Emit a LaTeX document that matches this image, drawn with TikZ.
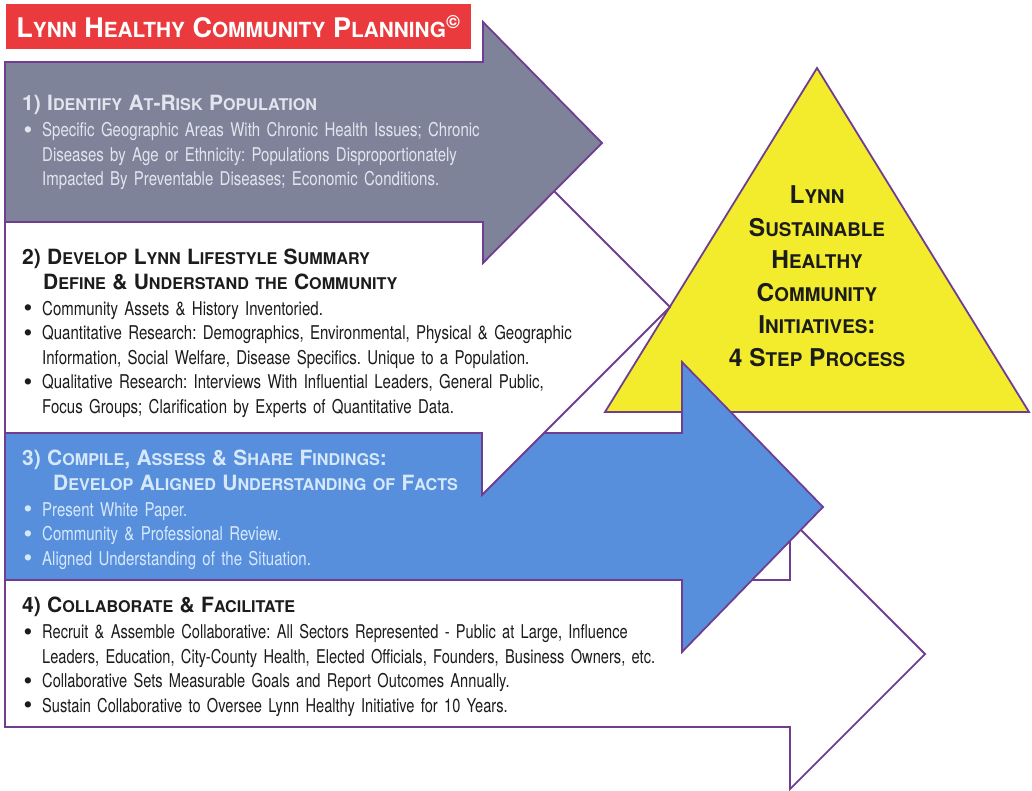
\documentclass[tikz,border=0pt]{standalone}
\usepackage{fontspec}
\setmainfont{TeX Gyre Heros}
\newfontfamily\bodyfont{TeX Gyre Heros}[FakeStretch=0.79]
\newfontfamily\narrowfont{TeX Gyre Heros}[FakeStretch=0.77]
\newfontfamily\headfont{TeX Gyre Heros}
\usetikzlibrary{positioning}
\definecolor{cpurple}{RGB}{112,62,145}
\definecolor{cgray}{RGB}{126,131,153}
\definecolor{cblue}{RGB}{88,143,221}
\definecolor{cyellow}{RGB}{242,236,45}
\definecolor{cred}{RGB}{234,58,62}
\definecolor{cpale}{RGB}{226,229,238}
\definecolor{cice}{RGB}{214,233,252}
\definecolor{cink}{RGB}{28,28,28}
\setlength\parindent{0pt}
\frenchspacing
\makeatletter
\newcommand\sm[1]{{\fontsize{\the\dimexpr 0.77\dimexpr\f@size pt\relax\relax}{0pt}\selectfont #1}}
\makeatother
\newcommand\stephead[1]{{\headfont\bfseries\fontsize{21}{24.5}\selectfont #1\par}\vspace{1.5pt}}
\newcommand\itm{\par\hangindent=20pt\hangafter=1\noindent
  \makebox[20pt][l]{\hspace{1.5pt}\raisebox{-1.6pt}{\headfont\fontsize{25}{0}\selectfont\textbullet}}}
\newcommand\nl{\hfil\break}

\begin{document}
\begin{tikzpicture}[x=1pt, y=-1pt,
    stepshape/.style={draw=cpurple, line width=1.8pt, line join=miter},
    stepbox/.style={anchor=north west, inner sep=0pt, text width=720pt, align=left,
                    font=\bodyfont\fontsize{19}{24.5}\selectfont},
    peak/.style={inner sep=0pt, align=center, text=cink,
                 font=\headfont\bfseries\fontsize{24.5}{32.5}\selectfont}
  ]
  \useasboundingbox (0,0) rectangle (1032,790);

  % the goal triangle sits underneath the arrows
  \draw[stepshape, fill=cyellow] (605,412) -- (817,68) -- (1029,412) -- cycle;

  % arrows, bottom one first
  \draw[stepshape, fill=white] (5,580) -- (790,580) -- (790,519) -- (925,654)
    -- (790,789) -- (790,727) -- (5,727) -- cycle;
  \draw[stepshape, fill=cblue] (5,433) -- (682,433) -- (682,362) -- (823,507)
    -- (682,652) -- (682,580) -- (5,580) -- cycle;
  \draw[stepshape, fill=white] (5,222) -- (482,222) -- (482,119) -- (670,307)
    -- (482,495) -- (482,433) -- (5,433) -- cycle;
  \draw[stepshape, fill=cgray] (5,62) -- (483,62) -- (483,22) -- (602,143)
    -- (483,263) -- (483,222) -- (5,222) -- cycle;

  \node[fill=cred, draw=white, line width=2pt, minimum width=467pt, minimum height=47pt,
        inner sep=0pt, text=white, font=\headfont\bfseries\fontsize{27}{30}\selectfont]
    (title) at (238.5,26.5) {L\sm{YNN} H\sm{EALTHY} C\sm{OMMUNITY} P\sm{LANNING}\textsuperscript{\textcopyright}};

  \node[stepbox, text=cpale] (identify) at (22,95) {
    \stephead{1) I\sm{DENTIFY} A\sm{T}-R\sm{ISK} P\sm{OPULATION}}
    \itm Specific Geographic Areas With Chronic Health Issues; Chronic\nl
    Diseases by Age or Ethnicity: Populations Disproportionately\nl
    Impacted By Preventable Diseases; Economic Conditions.\par
  };
  \node[stepbox, text=cink] (develop) at (22,249) {
    \stephead{2) D\sm{EVELOP} L\sm{YNN} L\sm{IFESTYLE} S\sm{UMMARY}\\
      \hspace*{21pt}D\sm{EFINE} \& U\sm{NDERSTAND THE} C\sm{OMMUNITY}}
    \itm Community Assets \& History Inventoried.
    \itm Quantitative Research: Demographics, Environmental, Physical \& Geographic\nl
    Information, Social Welfare, Disease Specifics. Unique to a Population.
    \itm Qualitative Research: Interviews With Influential Leaders, General Public,\nl
    Focus Groups; Clarification by Experts of Quantitative Data.\par
  };
  \node[stepbox, text=cice] (compile) at (22,450) {
    \stephead{3) C\sm{OMPILE}, A\sm{SSESS} \& S\sm{HARE} F\sm{INDINGS}:\\
      \hspace*{31pt}D\sm{EVELOP} A\sm{LIGNED} U\sm{NDERSTANDING OF} F\sm{ACTS}}
    \itm Present White Paper.
    \itm Community \& Professional Review.
    \itm Aligned Understanding of the Situation.\par
  };
  \node[stepbox, text=cink, font=\narrowfont\fontsize{19}{24.5}\selectfont] (collab) at (22,597) {
    \stephead{4) C\sm{OLLABORATE} \& F\sm{ACILITATE}}
    \itm Recruit \& Assemble Collaborative: All Sectors Represented - Public at Large, Influence\nl
    Leaders, Education, City-County Health, Elected Officials, Founders, Business Owners, etc.
    \itm Collaborative Sets Measurable Goals and Report Outcomes Annually.
    \itm Sustain Collaborative to Oversee Lynn Healthy Initiative for 10 Years.\par
  };

  \node[peak] (goal) at (817,276) {L\sm{YNN}\\ S\sm{USTAINABLE}\\ H\sm{EALTHY}\\
    C\sm{OMMUNITY}\\ I\sm{NITIATIVES}:\\ 4 S\sm{TEP} P\sm{ROCESS}};
\end{tikzpicture}
\end{document}
